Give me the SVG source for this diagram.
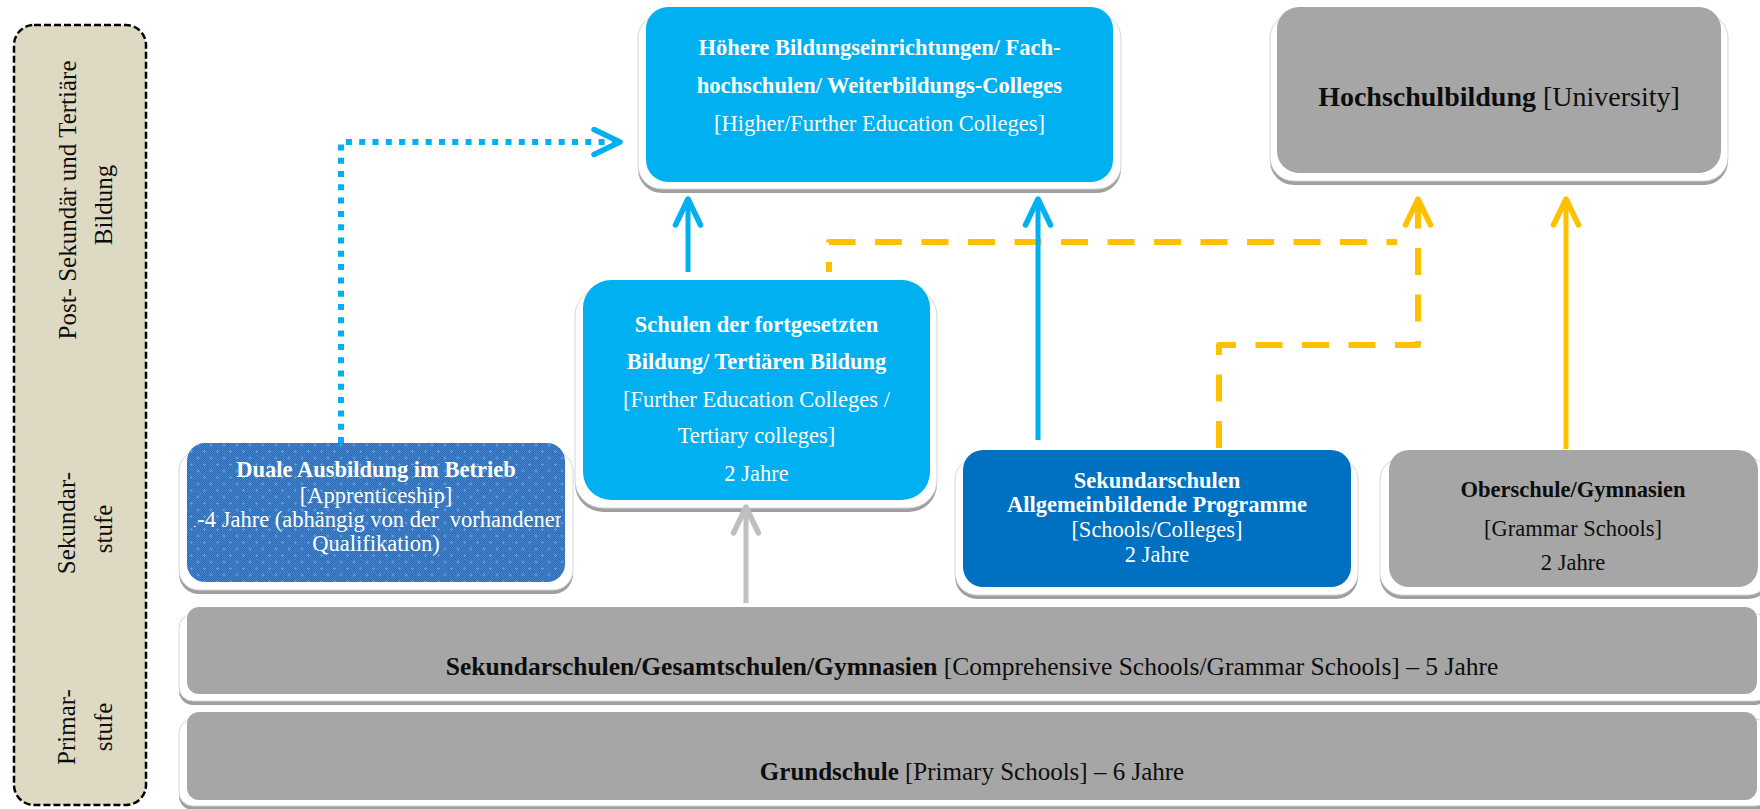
<svg xmlns="http://www.w3.org/2000/svg" width="1760" height="809" viewBox="0 0 1760 809">
<style>
.t{font-family:"Liberation Serif","Times New Roman",serif;}
.w{fill:#ffffff;}
.k{fill:#0d0d0d;}
.b{font-weight:bold;}
.card{fill:#ffffff;stroke:#d6d6d6;stroke-width:1;}
.shadow{fill:#9f9f9f;}
.gray{fill:#a6a6a6;}
.cyan{fill:#00b0f0;}
.line{fill:none;stroke-linejoin:round;}
</style>
<defs>
<pattern id="fine" width="2" height="2" patternUnits="userSpaceOnUse">
<rect width="2" height="2" fill="#4283cc"/>
<rect width="1" height="1" fill="#2d6bb4"/>
<rect x="1" y="1" width="1" height="1" fill="#2d6bb4"/>
</pattern>
<pattern id="dots" width="13" height="13" patternUnits="userSpaceOnUse">
<rect width="13" height="13" fill="url(#fine)"/>
<path d="M3 1.5v3M1.5 3h3M9.5 8v3M8 9.5h3" stroke="#5e9fe2" stroke-width="1"/>
</pattern>
<marker id="ahBlue" markerUnits="userSpaceOnUse" refX="0" refY="0" orient="auto" style="overflow:visible">
<path d="M-26,-12.5 L0,0 L-26,12.5" fill="none" stroke="#00b0f0" stroke-width="5.5" stroke-linecap="round" stroke-linejoin="round"/>
</marker>
<marker id="ahYellow" markerUnits="userSpaceOnUse" refX="0" refY="0" orient="auto" style="overflow:visible">
<path d="M-26,-12.5 L0,0 L-26,12.5" fill="none" stroke="#ffc000" stroke-width="5.5" stroke-linecap="round" stroke-linejoin="round"/>
</marker>
<marker id="ahGray" markerUnits="userSpaceOnUse" refX="0" refY="0" orient="auto" style="overflow:visible">
<path d="M-26,-12.5 L0,0 L-26,12.5" fill="none" stroke="#bfbfbf" stroke-width="5.5" stroke-linecap="round" stroke-linejoin="round"/>
</marker>
<clipPath id="clipSchulenJahre"><rect x="583" y="440" width="347" height="44"/></clipPath>
<clipPath id="clipOberJahre"><rect x="1389" y="540" width="369" height="33"/></clipPath>
<clipPath id="clipDuale"><rect x="194" y="505" width="367" height="30"/></clipPath>
</defs>

<g id="n-stufen">
<rect x="14" y="25" width="132" height="780" rx="20" fill="#ddd9c3" stroke="#000" stroke-width="2.5" stroke-dasharray="7 3"/>
<g class="t k" font-size="25" text-anchor="middle">
<text transform="translate(76,200) rotate(-90)">Post- Sekundär und Tertiäre</text>
<text transform="translate(112,205) rotate(-90)">Bildung</text>
<text transform="translate(75,523) rotate(-90)">Sekundar-</text>
<text transform="translate(112,529) rotate(-90)">stufe</text>
<text transform="translate(75,727) rotate(-90)">Primar-</text>
<text transform="translate(112,727) rotate(-90)">stufe</text>
</g>
</g>

<g id="n-hoehere">
<rect class="shadow" x="638" y="18" width="483" height="175" rx="24"/>
<rect class="card" x="638" y="14" width="483" height="175" rx="24"/>
<rect class="cyan" x="646" y="7" width="467" height="175" rx="22"/>
<g class="t w" font-size="22.5" text-anchor="middle">
<text class="b" x="879.5" y="55">Höhere Bildungseinrichtungen/ Fach-</text>
<text class="b" x="879.5" y="93">hochschulen/ Weiterbildungs-Colleges</text>
<text x="879.5" y="131">[Higher/Further Education Colleges]</text>
</g>
</g>

<g id="n-hochschul">
<rect class="shadow" x="1270" y="18" width="458" height="167" rx="24"/>
<rect class="card" x="1270" y="14" width="458" height="167" rx="24"/>
<rect class="gray" x="1277" y="7" width="444" height="166" rx="22"/>
<text class="t k" font-size="28" text-anchor="middle" x="1499" y="106"><tspan class="b">Hochschulbildung</tspan> [University]</text>
</g>

<g id="n-schulen">
<rect class="shadow" x="575" y="292" width="362" height="220" rx="28"/>
<rect class="card" x="575" y="288" width="362" height="220" rx="28"/>
<rect class="cyan" x="583" y="280" width="347" height="220" rx="28"/>
<g class="t w" font-size="22.5" text-anchor="middle">
<text class="b" x="756.5" y="332">Schulen der fortgesetzten</text>
<text class="b" x="756.5" y="369">Bildung/ Tertiären Bildung</text>
<text x="756.5" y="407">[Further Education Colleges /</text>
<text x="756.5" y="443">Tertiary colleges]</text>
<text x="756.5" y="481" clip-path="url(#clipSchulenJahre)">2 Jahre</text>
</g>
</g>

<g id="n-duale">
<rect class="shadow" x="179" y="455" width="394" height="139" rx="20"/>
<rect class="card" x="179" y="451" width="394" height="139" rx="20"/>
<rect x="187" y="443" width="378" height="139" rx="18" fill="url(#dots)"/>
<g class="t w" font-size="22.5" text-anchor="middle">
<text class="b" x="376" y="477">Duale Ausbildung im Betrieb</text>
<text x="376" y="503">[Apprenticeship]</text>
<g clip-path="url(#clipDuale)"><text x="376" y="527" textLength="380" lengthAdjust="spacingAndGlyphs" xml:space="preserve">1-4 Jahre (abhängig von der  vorhandenen</text></g>
<text x="376" y="551">Qualifikation)</text>
</g>
</g>

<g id="n-sekundar">
<rect class="shadow" x="955" y="462" width="403" height="137" rx="22"/>
<rect class="card" x="955" y="458" width="403" height="137" rx="22"/>
<rect x="963" y="450" width="388" height="137" rx="20" fill="#0070c0"/>
<g class="t w" font-size="22.5" text-anchor="middle">
<text class="b" x="1157" y="488">Sekundarschulen</text>
<text class="b" x="1157" y="512">Allgemeinbildende Programme</text>
<text x="1157" y="537">[Schools/Colleges]</text>
<text x="1157" y="562">2 Jahre</text>
</g>
</g>

<g id="n-ober">
<rect class="shadow" x="1380" y="462" width="390" height="137" rx="22"/>
<rect class="card" x="1380" y="458" width="390" height="137" rx="22"/>
<rect class="gray" x="1389" y="450" width="369" height="137" rx="20"/>
<g class="t k" font-size="22.5" text-anchor="middle">
<text class="b" x="1573" y="497">Oberschule/Gymnasien</text>
<text x="1573" y="536">[Grammar Schools]</text>
<text x="1573" y="570" clip-path="url(#clipOberJahre)">2 Jahre</text>
</g>
</g>

<g id="n-sekundarstufe1">
<rect class="shadow" x="179" y="618" width="1590" height="87" rx="14"/>
<rect class="card" x="179" y="614" width="1590" height="87" rx="14"/>
<rect class="gray" x="187" y="607" width="1570" height="87" rx="12"/>
<text class="t k" font-size="25.5" text-anchor="middle" x="972" y="675"><tspan class="b">Sekundarschulen/Gesamtschulen/Gymnasien</tspan> [Comprehensive Schools/Grammar Schools] – 5 Jahre</text>
</g>

<g id="n-grundschule">
<rect class="shadow" x="179" y="723" width="1590" height="87" rx="14"/>
<rect class="card" x="179" y="719" width="1590" height="87" rx="14"/>
<rect class="gray" x="187" y="712" width="1570" height="88" rx="12"/>
<text class="t k" font-size="25" text-anchor="middle" x="972" y="780"><tspan class="b">Grundschule</tspan> [Primary Schools] – 6 Jahre</text>
</g>

<g id="connectors">
<path class="line" d="M341,443 V142 H620" stroke="#00b0f0" stroke-width="6" stroke-dasharray="6 7.3" marker-end="url(#ahBlue)"/>
<path class="line" d="M829,272 V242 H1397" stroke="#ffc000" stroke-width="6" stroke-dasharray="27 19.5" stroke-dashoffset="17"/>
<path class="line" d="M1219,448 V345 H1418 V199" stroke="#ffc000" stroke-width="6" stroke-dasharray="27 19.5" marker-end="url(#ahYellow)"/>
<path class="line" d="M688,272 V199" stroke="#00b0f0" stroke-width="5" marker-end="url(#ahBlue)"/>
<path class="line" d="M1038,440 V199" stroke="#00b0f0" stroke-width="5" marker-end="url(#ahBlue)"/>
<path class="line" d="M1566,449 V199" stroke="#ffc000" stroke-width="5" marker-end="url(#ahYellow)"/>
<path class="line" d="M746,603 V507" stroke="#bfbfbf" stroke-width="5" marker-end="url(#ahGray)"/>
</g>
</svg>
